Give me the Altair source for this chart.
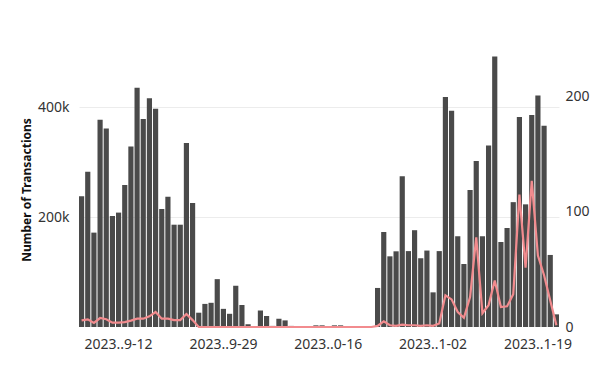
import altair as alt
import pandas as pd

start_date = "2023-09-06"
n_days = 78

transactions = [
    237600, 282500, 171600, 377000, 360700, 201800, 208000, 258000, 328000, 435000,
    378000, 416000, 397000, 214500, 237000, 186000, 186000, 334500, 225500, 26000,
    42000, 44000, 87000, 33000, 24000, 75000, 40000, 5000, 0, 30000,
    20000, 2000, 15000, 12000, 2000, 0, 0, 0, 3000, 3000,
    0, 3000, 3000, 0, 0, 1000, 1000, 1500, 71000, 172700,
    128500, 137600, 274000, 138000, 176000, 125000, 139000, 63000, 138000, 418000,
    393000, 165000, 114500, 249000, 302000, 165000, 330000, 492000, 154500, 180000,
    227000, 382000, 223000, 385500, 421000, 366000, 131000, 23000,
]

second_series = [
    5.8, 6.7, 3.5, 7.8, 6.7, 3.8, 3.8, 4.3, 5.5, 7.2,
    7.2, 9.3, 13, 7.2, 7.2, 6, 6, 11.3, 6, 0,
    0, 0, 0, 0, 0, 0, 0, 0, 0, 0,
    0, 0, 0, 0, 0, 0, 0, 0, 0, 0,
    0, 0, 0, 0, 0, 0, 0, 0, 1, 5,
    1.5, 1, 2, 1.5, 1.5, 1, 1.5, 1, 3, 27.5,
    24, 13, 8, 26, 78, 12, 19, 40.5, 17.4, 18,
    28.4, 115, 51.6, 127, 62, 45, 23, 1.5,
]

tick_dates = ["2023-09-12", "2023-09-29", "2023-10-16", "2023-11-02", "2023-11-19"]

dates = [d.strftime("%Y-%m-%d") for d in pd.date_range(start_date, periods=n_days, freq="D")]
df = pd.DataFrame({"date": dates, "transactions": transactions, "other": second_series})

font = "Noto Sans"

x_enc = alt.X(
    "date:O",
    sort=None,
    scale=alt.Scale(paddingInner=0.16, paddingOuter=0),
    axis=alt.Axis(
        title=None,
        values=tick_dates,
        labelExpr="slice(datum.value, 0, 4) + '..' + slice(datum.value, 6)",
        labelAngle=0,
        ticks=False,
        domain=False,
        labelFontSize=14,
        labelColor="#333333",
        labelFont=font,
        labelPadding=10,
    ),
)

bars = alt.Chart(df).mark_bar(color="#4a4a4a").encode(
    x=x_enc,
    y=alt.Y(
        "transactions:Q",
        scale=alt.Scale(domain=[0, 500000], nice=False),
        axis=alt.Axis(
            title="Number of Transactions",
            values=[200000, 400000],
            labelExpr="datum.value / 1000 + 'k'",
            ticks=False,
            domain=False,
            grid=True,
            gridColor="#ececec",
            labelFontSize=14,
            labelColor="#333333",
            labelFont=font,
            labelPadding=10,
            titleFont=font,
            titleFontSize=12,
            titleFontWeight="bold",
            titleColor="#111111",
            titlePadding=4,
        ),
    ),
)

line = alt.Chart(df).mark_line(color="#f28b8e", strokeWidth=2.2).encode(
    x=x_enc,
    y=alt.Y(
        "other:Q",
        scale=alt.Scale(domain=[0, 239], nice=False),
        axis=alt.Axis(
            title=None,
            orient="right",
            values=[0, 100, 200],
            ticks=False,
            domain=False,
            grid=False,
            labelFontSize=14,
            labelColor="#333333",
            labelFont=font,
            labelPadding=6,
        ),
    ),
)

chart = (
    alt.layer(bars, line)
    .resolve_scale(y="independent")
    .properties(
        width=480,
        height=275,
        autosize=alt.AutoSizeParams(type="none"),
        padding={"left": 71, "top": 44, "right": 32, "bottom": 30},
    )
    .configure_view(stroke=None)
)

chart.save("out.html", embed_options={"renderer": "svg", "actions": False})
